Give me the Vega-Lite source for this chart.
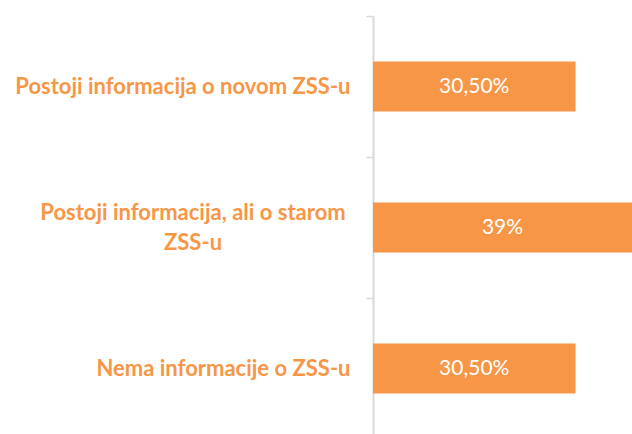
{
  "$schema": "https://vega.github.io/schema/vega-lite/v6.json",
  "width": 259,
  "height": 423,
  "autosize": "none",
  "padding": {"left": 373, "top": 16, "right": 0, "bottom": 0},
  "background": "white",
  "config": {"view": {"stroke": null}},
  "data": {"values": [
    {"category": "Postoji informacija o novom ZSS-u", "value": 30.5, "label": "30,50%"},
    {"category": "Postoji informacija, ali o starom ZSS-u", "value": 39, "label": "39%"},
    {"category": "Nema informacije o ZSS-u", "value": 30.5, "label": "30,50%"}
  ]},
  "encoding": {
    "y": {
      "field": "category",
      "type": "nominal",
      "sort": null,
      "scale": {"paddingInner": 0.645, "paddingOuter": 0.3225},
      "axis": {
        "title": null,
        "domainColor": "#d9d9d9",
        "domainWidth": 2,
        "tickColor": "#d9d9d9",
        "tickWidth": 1.5,
        "tickSize": 7,
        "tickOffset": -70.5,
        "labelColor": "#F79646",
        "labelFont": "Lato",
        "labelFontWeight": "bold",
        "labelFontSize": 22,
        "labelLineHeight": 30,
        "labelLimit": 0,
        "labelBaseline": "middle",
        "labelExpr": "datum.value === 'Postoji informacija, ali o starom ZSS-u' ? ['Postoji informacija, ali o starom', 'ZSS-u'] : datum.label",
        "labelAlign": {"condition": {"test": "datum.value === 'Postoji informacija, ali o starom ZSS-u'", "value": "center"}, "value": "right"},
        "labelPadding": {"condition": {"test": "datum.value === 'Postoji informacija, ali o starom ZSS-u'", "value": 173.5}, "value": 16},
        "labelOffset": {"condition": {"test": "datum.value === 'Postoji informacija, ali o starom ZSS-u'", "value": 55.5}, "value": 70.5}
      }
    }
  },
  "layer": [
    {
      "mark": {"type": "bar", "color": "#F79646"},
      "encoding": {
        "x": {"field": "value", "type": "quantitative", "scale": {"domain": [0, 39], "nice": false}, "axis": null}
      }
    },
    {
      "transform": [{"calculate": "datum.value / 2", "as": "mid"}],
      "mark": {"type": "text", "color": "white", "font": "Lato", "fontSize": 21, "baseline": "middle", "align": "center"},
      "encoding": {
        "x": {"field": "mid", "type": "quantitative"},
        "text": {"field": "label"}
      }
    }
  ]
}
